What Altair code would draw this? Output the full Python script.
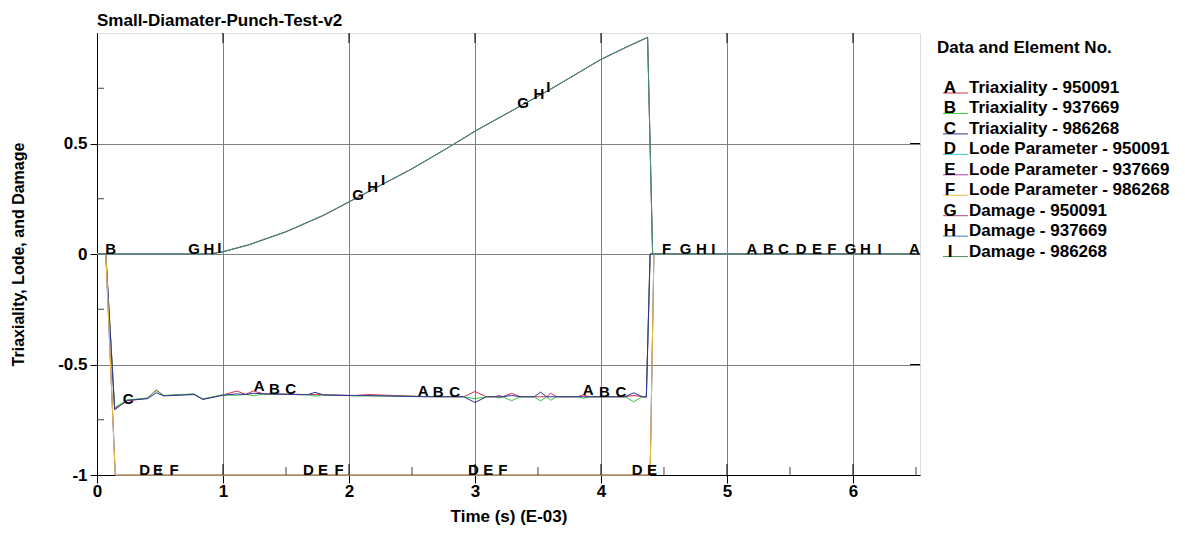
import altair as alt
import numpy as np
import pandas as pd

TITLE = "Small-Diamater-Punch-Test-v2"
X_TITLE = "Time (s) (E-03)"
Y_TITLE = "Triaxiality, Lode, and Damage"
LEGEND_TITLE = "Data and Element No."

SERIES = ["A", "B", "C", "D", "E", "F", "G", "H", "I"]
NAMES = [
    "Triaxiality - 950091", "Triaxiality - 937669", "Triaxiality - 986268",
    "Lode Parameter - 950091", "Lode Parameter - 937669", "Lode Parameter - 986268",
    "Damage - 950091", "Damage - 937669", "Damage - 986268",
]
COLORS = ["#d6304f", "#3cc83c", "#2e2e9c", "#3cc8c8", "#b03cb0", "#e8c040",
          "#b04878", "#3c7cb8", "#4c8c64"]

# Triaxiality (A, B, C)
T_TRI = [0.00, 0.07, 0.14, 0.24, 0.40, 0.47, 0.53, 0.77, 0.84, 1.00, 1.11, 1.18,
         1.24, 1.32, 1.50, 1.67, 1.73, 1.80, 2.05, 2.15, 2.35, 2.60, 2.91, 3.00,
         3.09, 3.16, 3.19, 3.22, 3.29, 3.36, 3.47, 3.52, 3.57, 3.60, 3.65, 3.81,
         3.86, 3.91, 4.19, 4.26, 4.33, 4.36, 4.39, 6.50]
TRI_A = [0, 0, -0.700, -0.665, -0.652, -0.615, -0.641, -0.634, -0.657, -0.638, -0.620, -0.635,
         -0.620, -0.632, -0.634, -0.636, -0.636, -0.637, -0.640, -0.636, -0.640, -0.645, -0.646, -0.622,
         -0.646, -0.646, -0.640, -0.646, -0.630, -0.646, -0.646, -0.646, -0.646, -0.630, -0.646, -0.646,
         -0.638, -0.646, -0.646, -0.640, -0.646, -0.647, 0, 0]
TRI_B = [0, 0, -0.695, -0.660, -0.652, -0.618, -0.640, -0.633, -0.656, -0.637, -0.640, -0.635,
         -0.641, -0.634, -0.635, -0.637, -0.643, -0.638, -0.641, -0.642, -0.643, -0.645, -0.646, -0.655,
         -0.646, -0.646, -0.652, -0.646, -0.664, -0.646, -0.646, -0.665, -0.646, -0.662, -0.646, -0.646,
         -0.652, -0.646, -0.646, -0.668, -0.646, -0.647, 0, 0]
TRI_C = [0, 0, -0.705, -0.662, -0.655, -0.628, -0.642, -0.636, -0.658, -0.639, -0.633, -0.636,
         -0.630, -0.633, -0.635, -0.637, -0.626, -0.638, -0.641, -0.641, -0.643, -0.646, -0.646, -0.672,
         -0.646, -0.646, -0.646, -0.646, -0.640, -0.646, -0.646, -0.625, -0.646, -0.646, -0.646, -0.646,
         -0.646, -0.646, -0.646, -0.628, -0.646, -0.647, 0, 0]

# Lode parameter (D, E, F)
T_LODE = [0.00, 0.07, 0.145, 4.39, 4.42, 6.50]
LODE_D = [0, 0, -1, -1, 0, 0]
LODE_E = [0, 0, -1, -1, 0, 0]
LODE_F = [0, 0, -1, -1, 0, 0]

# Damage (G, H, I)
T_DMG = [0.00, 0.90, 1.00, 1.20, 1.50, 1.80, 2.00, 2.20, 2.50, 2.80, 3.00, 3.30,
         3.60, 4.00, 4.20, 4.37, 4.41, 6.50]
DMG_G = [0, 0, 0.010, 0.040, 0.100, 0.175, 0.235, 0.295, 0.385, 0.485, 0.555, 0.650,
         0.745, 0.880, 0.935, 0.980, 0, 0]
DMG_H = [0, 0, 0.010, 0.041, 0.101, 0.176, 0.236, 0.296, 0.386, 0.486, 0.556, 0.651,
         0.746, 0.881, 0.936, 0.980, 0, 0]
DMG_I = [0, 0, 0.011, 0.041, 0.101, 0.176, 0.236, 0.296, 0.386, 0.486, 0.556, 0.651,
         0.746, 0.881, 0.936, 0.981, 0, 0]

# Times at which each curve carries its letter marker
LABEL_T = {
    "A": [1.245, 2.545, 3.855, 5.155, 6.445],
    "B": [0.065, 1.365, 2.665, 3.985, 5.285],
    "C": [0.205, 1.495, 2.795, 4.115, 5.405],
    "D": [0.335, 1.635, 2.945, 4.245, 5.545],
    "E": [0.445, 1.755, 3.065, 4.365, 5.675],
    "F": [0.575, 1.885, 3.185, 4.485, 5.795],
    "G": [0.725, 2.025, 3.335, 4.625, 5.935],
    "H": [0.845, 2.145, 3.465, 4.755, 6.055],
    "I": [0.955, 2.255, 3.565, 4.875, 6.195],
}

X_TICKS = [0, 1, 2, 3, 4, 5, 6]
X_INNER = [1, 2, 3, 4, 5, 6]
X_MINOR = [0.5, 1.5, 2.5, 3.5, 4.5, 5.5, 6.5]
Y_TICKS = [-1, -0.5, 0, 0.5]
Y_MINOR = [-0.75, -0.25, 0.25, 0.75]
Y_RIGHT = [-0.5, 0, 0.5]

FONT = "Liberation Sans"

curves = {
    "A": (T_TRI, TRI_A), "B": (T_TRI, TRI_B), "C": (T_TRI, TRI_C),
    "D": (T_LODE, LODE_D), "E": (T_LODE, LODE_E), "F": (T_LODE, LODE_F),
    "G": (T_DMG, DMG_G), "H": (T_DMG, DMG_H), "I": (T_DMG, DMG_I),
}

rows = []
lab_rows = []
for s in SERIES:
    tt, vv = curves[s]
    for i, (t, v) in enumerate(zip(tt, vv)):
        rows.append({"series": s, "t": t, "v": v, "i": i})
    for t in LABEL_T[s]:
        lab_rows.append({"series": s, "t": t, "v": float(np.interp(t, tt, vv))})
df = pd.DataFrame(rows)
df_lab = pd.DataFrame(lab_rows)

x_scale = alt.Scale(domain=[0, 6.532], nice=False, zero=False)
y_scale = alt.Scale(domain=[-1, 1], nice=False, zero=False)
color_scale = alt.Scale(domain=SERIES, range=COLORS)

x_axis = alt.Axis(
    values=X_TICKS, grid=True, gridColor="#808080", gridWidth=1,
    domainColor="black", tickColor="black", tickSize=8, labelPadding=0,
    labelFlush=False, labelOverlap=False,
    labelFont=FONT, labelFontSize=17, labelFontWeight="bold", labelColor="black",
    title=X_TITLE, titleFont=FONT, titleFontSize=17, titleFontWeight="bold",
    titleColor="black", titlePadding=9, labelExpr="toString(datum.value)",
)
y_axis = alt.Axis(
    values=Y_TICKS, grid=True, gridColor="#808080", gridWidth=1,
    domainColor="black", tickColor="black", tickSize=7, labelPadding=3,
    labelFlush=False, labelOverlap=False,
    labelFont=FONT, labelFontSize=17, labelFontWeight="bold", labelColor="black",
    title=Y_TITLE, titleFont=FONT, titleFontSize=16, titleFontWeight="bold",
    titleColor="black", titlePadding=31, labelExpr="toString(datum.value)",
)

lines = alt.Chart(df).mark_line(strokeWidth=1).encode(
    x=alt.X("t:Q", scale=x_scale, axis=x_axis),
    y=alt.Y("v:Q", scale=y_scale, axis=y_axis),
    color=alt.Color("series:N", scale=color_scale, legend=None),
    detail="series:N",
    order="i:Q",
)

letters = alt.Chart(df_lab).mark_text(
    align="left", baseline="alphabetic", font=FONT, fontSize=15,
    fontWeight="bold", color="black",
).encode(
    x=alt.X("t:Q", scale=x_scale),
    y=alt.Y("v:Q", scale=y_scale),
    text="series:N",
)

# frame ticks (inside)
top_ticks = alt.Chart(pd.DataFrame({"t": X_INNER})).mark_rule(color="black").encode(
    x=alt.X("t:Q", scale=x_scale), y=alt.value(0), y2=alt.value(10))
bot_ticks = alt.Chart(pd.DataFrame({"t": X_INNER})).mark_rule(color="black").encode(
    x=alt.X("t:Q", scale=x_scale), y=alt.value(442), y2=alt.value(431))
bot_minor = alt.Chart(pd.DataFrame({"t": X_MINOR})).mark_rule(color="#404040").encode(
    x=alt.X("t:Q", scale=x_scale), y=alt.value(442), y2=alt.value(434))
left_minor = alt.Chart(pd.DataFrame({"v": Y_MINOR})).mark_rule(color="#404040").encode(
    y=alt.Y("v:Q", scale=y_scale), x=alt.value(0), x2=alt.value(7))
right_ticks = alt.Chart(pd.DataFrame({"v": Y_RIGHT})).mark_rule(color="black").encode(
    y=alt.Y("v:Q", scale=y_scale), x=alt.value(823), x2=alt.value(813))

# legend drawn beside the plot
leg = pd.DataFrame({"row": list(range(len(SERIES))), "series": SERIES, "name": NAMES})
leg_base = alt.Chart(leg).transform_calculate(ly="60 + datum.row * 20.45")
leg_rules = leg_base.mark_rule(strokeWidth=1).encode(
    x=alt.value(846), x2=alt.value(871),
    y=alt.Y("ly:Q", scale=None),
    color=alt.Color("series:N", scale=color_scale, legend=None),
)
leg_letters = leg_base.mark_text(
    align="center", baseline="alphabetic", font=FONT, fontSize=17,
    fontWeight="bold", color="black",
).encode(x=alt.value(853), y=alt.Y("ly:Q", scale=None), text="series:N")
leg_names = leg_base.mark_text(
    align="left", baseline="alphabetic", font=FONT, fontSize=17,
    fontWeight="bold", color="black",
).encode(x=alt.value(872), y=alt.Y("ly:Q", scale=None), text="name:N")
leg_title = alt.Chart(pd.DataFrame({"txt": [LEGEND_TITLE]})).mark_text(
    align="left", baseline="alphabetic", font=FONT, fontSize=17,
    fontWeight="bold", color="black",
).encode(x=alt.value(840), y=alt.value(20), text="txt:N")

chart = alt.layer(
    lines, top_ticks, bot_ticks, bot_minor, left_minor, right_ticks, letters,
    leg_rules, leg_letters, leg_names, leg_title,
).properties(
    width=823, height=442,
    autosize=alt.AutoSizeParams(type="none"),
    padding={"left": 89, "top": 25, "right": 250, "bottom": 51},
    title=alt.TitleParams(TITLE, anchor="start", frame="group", font=FONT,
                          fontSize=17, fontWeight="bold", color="black", offset=3),
).configure_view(
    stroke="#808080", strokeWidth=1,
).configure(background="white")

chart.save("out.html", embed_options={"renderer": "svg", "actions": False})
